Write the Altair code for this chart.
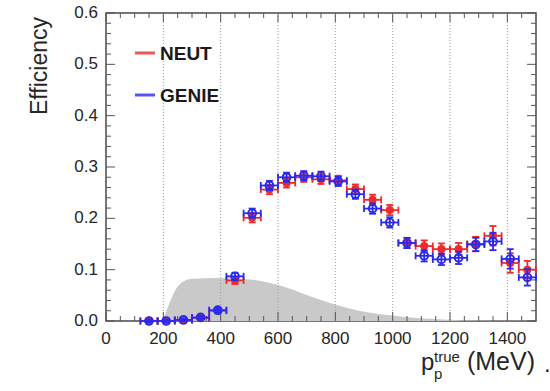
import altair as alt
import pandas as pd

# Bin centres of true proton momentum (MeV); each bin is 60 MeV wide
p_centres = [150, 210, 270, 330, 390, 450, 510, 570, 630, 690, 750, 810,
             870, 930, 990, 1050, 1110, 1170, 1230, 1290, 1350, 1410, 1470]
half_width = 30

neut_eff = [0.000, 0.000, 0.002, 0.006, 0.020, 0.079, 0.201, 0.256, 0.269,
            0.280, 0.276, 0.274, 0.257, 0.236, 0.216, 0.152, 0.146, 0.140,
            0.140, 0.150, 0.166, 0.113, 0.100]
neut_err = [0.002, 0.002, 0.002, 0.003, 0.004, 0.007, 0.009, 0.009, 0.009,
            0.009, 0.009, 0.009, 0.009, 0.010, 0.010, 0.010, 0.011, 0.011,
            0.012, 0.014, 0.019, 0.019, 0.017]

genie_eff = [0.000, 0.000, 0.002, 0.007, 0.021, 0.087, 0.210, 0.264, 0.280,
             0.283, 0.282, 0.272, 0.247, 0.219, 0.192, 0.152, 0.127, 0.120,
             0.123, 0.149, 0.155, 0.121, 0.085]
genie_err = [0.002, 0.002, 0.002, 0.003, 0.004, 0.007, 0.009, 0.009, 0.009,
             0.009, 0.009, 0.009, 0.009, 0.010, 0.010, 0.010, 0.011, 0.011,
             0.012, 0.013, 0.017, 0.019, 0.016]

# Shape of the true proton momentum distribution (arbitrary normalisation)
dist_p = [198, 224, 247, 270, 294, 387, 503, 572, 642, 712, 782, 852, 921,
          991, 1084, 1176, 1300, 1500]
dist_val = [0.000, 0.0385, 0.065, 0.077, 0.082, 0.084, 0.081, 0.074, 0.063,
            0.048, 0.035, 0.024, 0.016, 0.011, 0.006, 0.003, 0.001, 0.000]

x_labels = [0, 200, 400, 600, 800, 1000, 1200, 1400]
y_labels = [0.0, 0.1, 0.2, 0.3, 0.4, 0.5, 0.6]
x_grid = [200, 400, 600, 800, 1000, 1200, 1400]
x_minor = [v * 50 for v in range(1, 30) if v % 4]
y_minor = [round(v * 0.02, 2) for v in range(1, 30) if v % 5]

W, H = 430, 308
FONT = "Liberation Sans"
RED = "#ee2a2a"
BLUE = "#2a2aee"
TICK_COLOR = "#555555"
TEXT_COLOR = "#262626"

xs = alt.Scale(domain=[0, 1500], nice=False, zero=False)
ys = alt.Scale(domain=[0, 0.6], nice=False, zero=False)


def X(field):
    return alt.X(f"{field}:Q", scale=xs, axis=None)


def Y(field):
    return alt.Y(f"{field}:Q", scale=ys, axis=None)


# Acceptance shape in grey
dist_df = pd.DataFrame({"p": dist_p, "val": dist_val})
area = alt.Chart(dist_df).mark_area(color="#c9c9c9", interpolate="monotone").encode(
    x=X("p"), y=Y("val"))

# Dotted vertical grid
grid = alt.Chart(pd.DataFrame({"v": x_grid})).mark_rule(
    color="#9a9a9a", strokeDash=[1, 2], strokeWidth=1
).encode(x=X("v"))

# Inward ticks on all four sides of the frame
tick_layers = []
for vals, length in ((x_labels, 9), (x_minor, 5)):
    tdf = pd.DataFrame({"v": vals})
    tick_layers.append(alt.Chart(tdf).mark_rule(color=TICK_COLOR, strokeWidth=1).encode(
        x=X("v"), y=alt.value(H), y2=alt.value(H - length)))
    tick_layers.append(alt.Chart(tdf).mark_rule(color=TICK_COLOR, strokeWidth=1).encode(
        x=X("v"), y=alt.value(0), y2=alt.value(length)))
for vals, length in ((y_labels, 9), (y_minor, 5)):
    tdf = pd.DataFrame({"v": vals})
    tick_layers.append(alt.Chart(tdf).mark_rule(color=TICK_COLOR, strokeWidth=1).encode(
        y=Y("v"), x=alt.value(0), x2=alt.value(length)))
    tick_layers.append(alt.Chart(tdf).mark_rule(color=TICK_COLOR, strokeWidth=1).encode(
        y=Y("v"), x=alt.value(W), x2=alt.value(W - length)))

# Tick labels placed through the scales
xlab_df = pd.DataFrame({"v": x_labels, "t": [str(v) for v in x_labels]})
x_tick_labels = alt.Chart(xlab_df).mark_text(
    font=FONT, fontSize=17, color=TEXT_COLOR, align="center", baseline="top"
).encode(x=X("v"), y=alt.value(H + 10), text="t:N")

ylab_df = pd.DataFrame({"v": y_labels, "t": [f"{v:.1f}" for v in y_labels]})
y_tick_labels = alt.Chart(ylab_df).mark_text(
    font=FONT, fontSize=17, color=TEXT_COLOR, align="right", baseline="middle"
).encode(y=Y("v"), x=alt.value(-8), text="t:N")

y_title = alt.Chart(pd.DataFrame({"t": ["Efficiency"]})).mark_text(
    font=FONT, fontSize=23, color=TEXT_COLOR, align="center", baseline="middle", angle=270
).encode(x=alt.value(-66), y=alt.value(53), text="t:N")


def series_layers(eff, err, color, filled):
    df = pd.DataFrame({
        "p": p_centres,
        "lo": [p - half_width for p in p_centres],
        "hi": [p + half_width for p in p_centres],
        "eff": eff,
        "elo": [e - d for e, d in zip(eff, err)],
        "ehi": [e + d for e, d in zip(eff, err)],
    })
    base = alt.Chart(df)
    line = dict(color=color, strokeWidth=1.8)
    layers = [
        base.mark_rule(**line).encode(x=X("lo"), x2="hi", y=Y("eff")),
        base.mark_rule(**line).encode(x=X("p"), y=Y("elo"), y2="ehi"),
    ]
    for f in ("lo", "hi"):
        layers.append(base.mark_tick(orient="vertical", size=7, thickness=1.8,
                                     color=color, opacity=1).encode(x=X(f), y=Y("eff")))
    for f in ("elo", "ehi"):
        layers.append(base.mark_tick(orient="horizontal", size=7, thickness=1.8,
                                     color=color, opacity=1).encode(x=X("p"), y=Y(f)))
    if filled:
        layers.append(base.mark_point(shape="circle", size=65, filled=True, color=color,
                                      opacity=1).encode(x=X("p"), y=Y("eff")))
    else:
        layers.append(base.mark_point(shape="circle", size=60, filled=False, color=color,
                                      strokeWidth=2, opacity=1).encode(x=X("p"), y=Y("eff")))
    return layers


neut_layers = series_layers(neut_eff, neut_err, RED, True)
genie_layers = series_layers(genie_eff, genie_err, BLUE, False)

# Legend entries
legend_layers = []
for name, color, ypix in (("NEUT", RED, 40), ("GENIE", BLUE, 82)):
    ldf = pd.DataFrame({"label": [name]})
    legend_layers.append(alt.Chart(ldf).mark_rule(color=color, strokeWidth=3, opacity=0.8).encode(
        x=alt.value(29), x2=alt.value(49), y=alt.value(ypix)))
    legend_layers.append(alt.Chart(ldf).mark_text(
        font=FONT, fontSize=19, fontWeight="bold", color="#1a1a1a",
        align="left", baseline="middle").encode(
        x=alt.value(54), y=alt.value(ypix + 1), text="label:N"))

# x-axis title with sub- and superscript
title_parts = [
    ("p", 24, 315, 357, "left"),
    ("p", 15, 328, 366, "left"),
    ("true", 15, 328, 349, "left"),
    ("(MeV)", 25, 429, 357, "right"),
    (".", 24, 438, 359, "left"),
]
title_layers = []
for txt, size, xpix, ypix, align in title_parts:
    tdf = pd.DataFrame({"t": [txt]})
    title_layers.append(alt.Chart(tdf).mark_text(
        font=FONT, fontSize=size, color=TEXT_COLOR, align=align,
        baseline="alphabetic").encode(x=alt.value(xpix), y=alt.value(ypix), text="t:N"))

chart = alt.layer(
    area, grid, *tick_layers, *neut_layers, *genie_layers, *legend_layers,
    x_tick_labels, y_tick_labels, y_title, *title_layers
).properties(
    width=W, height=H,
    padding={"left": 106, "top": 13, "right": 14, "bottom": 70},
    autosize=alt.AutoSizeParams(type="none"),
).configure_view(
    stroke="#4a4a4a", strokeWidth=1.5
)

chart.save("out.html", embed_options={"renderer": "svg", "actions": False})
